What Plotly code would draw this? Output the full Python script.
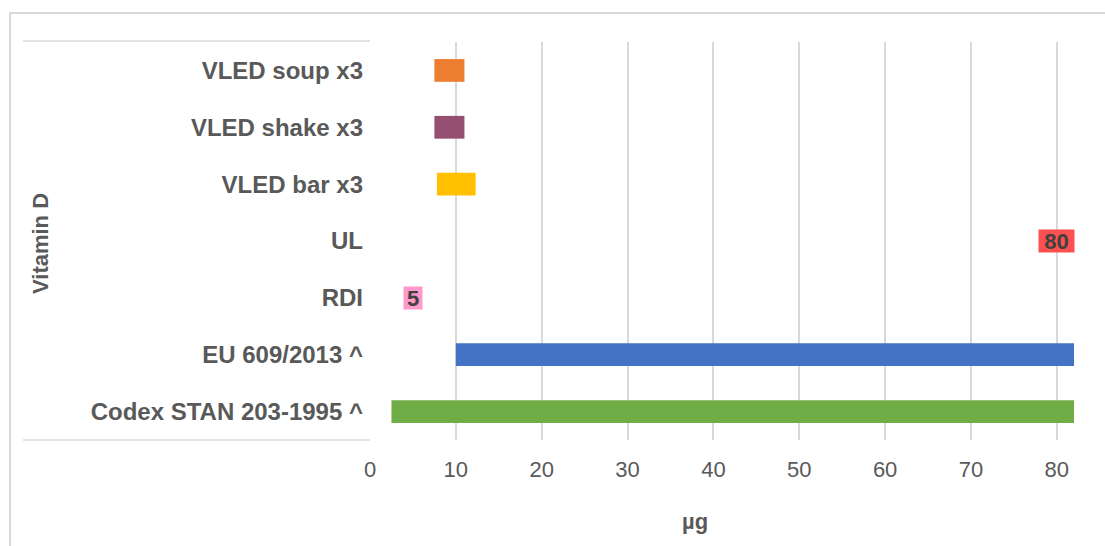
import plotly.graph_objects as go

# ---- data ----
categories = ["Codex STAN 203-1995 ^", "EU 609/2013 ^", "RDI", "UL",
              "VLED bar x3", "VLED shake x3", "VLED soup x3"]
bar_categories = ["Codex STAN 203-1995 ^", "EU 609/2013 ^",
                  "VLED bar x3", "VLED shake x3", "VLED soup x3"]
bar_start = [2.5, 10, 7.8, 7.5, 7.5]
bar_end = [82, 82, 12.3, 11, 11]
bar_colors = ["#70AD47", "#4472C4", "#FFC000", "#954F72", "#ED7D31"]

point_categories = ["RDI", "UL"]
point_values = [5, 80]
point_colors = ["#FF99CC", "#FF5050"]
point_box_w = [18, 35]

x_ticks = [0, 10, 20, 30, 40, 50, 60, 70, 80]
x_max = 82

# ---- layout geometry (pixels) ----
W, H = 1105, 546
L, R, T, B = 370, 1074, 42, 440
FONT = "Liberation Sans, Arial"


def px(x):
    return (x - L) / (R - L)


def py(y):
    return (B - y) / (B - T)


fig = go.Figure()
fig.add_trace(go.Bar(
    y=bar_categories,
    x=[e - s for s, e in zip(bar_start, bar_end)],
    base=bar_start,
    orientation="h",
    width=0.4,
    marker=dict(color=bar_colors, line=dict(width=0)),
    hoverinfo="skip",
    showlegend=False,
))

annotations = []
for c, v, col, w in zip(point_categories, point_values, point_colors, point_box_w):
    annotations.append(dict(
        x=v, y=c, xref="x", yref="y", text=f"<b>{v}</b>", showarrow=False,
        bgcolor=col, borderpad=0, width=w, height=22,
        font=dict(family=FONT, size=22, color="#404040"),
    ))

annotations.append(dict(
    x=px(695), y=py(521), xref="paper", yref="paper", text="<b>µg</b>",
    xanchor="center", yanchor="middle",
    showarrow=False, font=dict(family=FONT, size=22, color="#595959"),
))
annotations.append(dict(
    x=px(40), y=py(244), xref="paper", yref="paper", text="<b>Vitamin D</b>",
    xanchor="center", yanchor="middle",
    showarrow=False, textangle=-90,
    font=dict(family=FONT, size=22, color="#595959"),
))

line_col = "#D9D9D9"
shapes = [
    # outer chart border
    dict(type="rect", xref="paper", yref="paper", x0=px(10), x1=px(1200),
         y0=py(700), y1=py(13), line=dict(color=line_col, width=2), layer="below"),
    # category grouping box
    dict(type="line", xref="paper", yref="paper", x0=px(23), x1=px(370),
         y0=py(41), y1=py(41), line=dict(color=line_col, width=1.5)),
    dict(type="line", xref="paper", yref="paper", x0=px(23), x1=px(370),
         y0=py(440), y1=py(440), line=dict(color=line_col, width=1.5)),
]

fig.update_layout(
    width=W, height=H,
    margin=dict(l=L, r=W - R, t=T, b=H - B),
    paper_bgcolor="white", plot_bgcolor="white",
    barmode="overlay",
    font=dict(family=FONT, color="#595959"),
    xaxis=dict(range=[0, x_max], tickvals=x_ticks, showgrid=True,
               gridcolor=line_col, gridwidth=1.5, zeroline=False,
               showline=False, ticks="", tickfont=dict(size=22, color="#595959"),
               ticklabelstandoff=14),
    yaxis=dict(categoryorder="array", categoryarray=categories,
               tickvals=categories, ticktext=[f"<b>{c}</b>" for c in categories],
               showgrid=False, zeroline=False, showline=False, ticks="",
               tickfont=dict(size=24, color="#595959"), ticklabelstandoff=6,
               range=[-0.5, len(categories) - 0.5]),
    annotations=annotations,
    shapes=shapes,
)

fig.write_html("out.html", config={"displayModeBar": False},
               post_script="document.body.style.margin='0';document.body.style.overflow='hidden';")
